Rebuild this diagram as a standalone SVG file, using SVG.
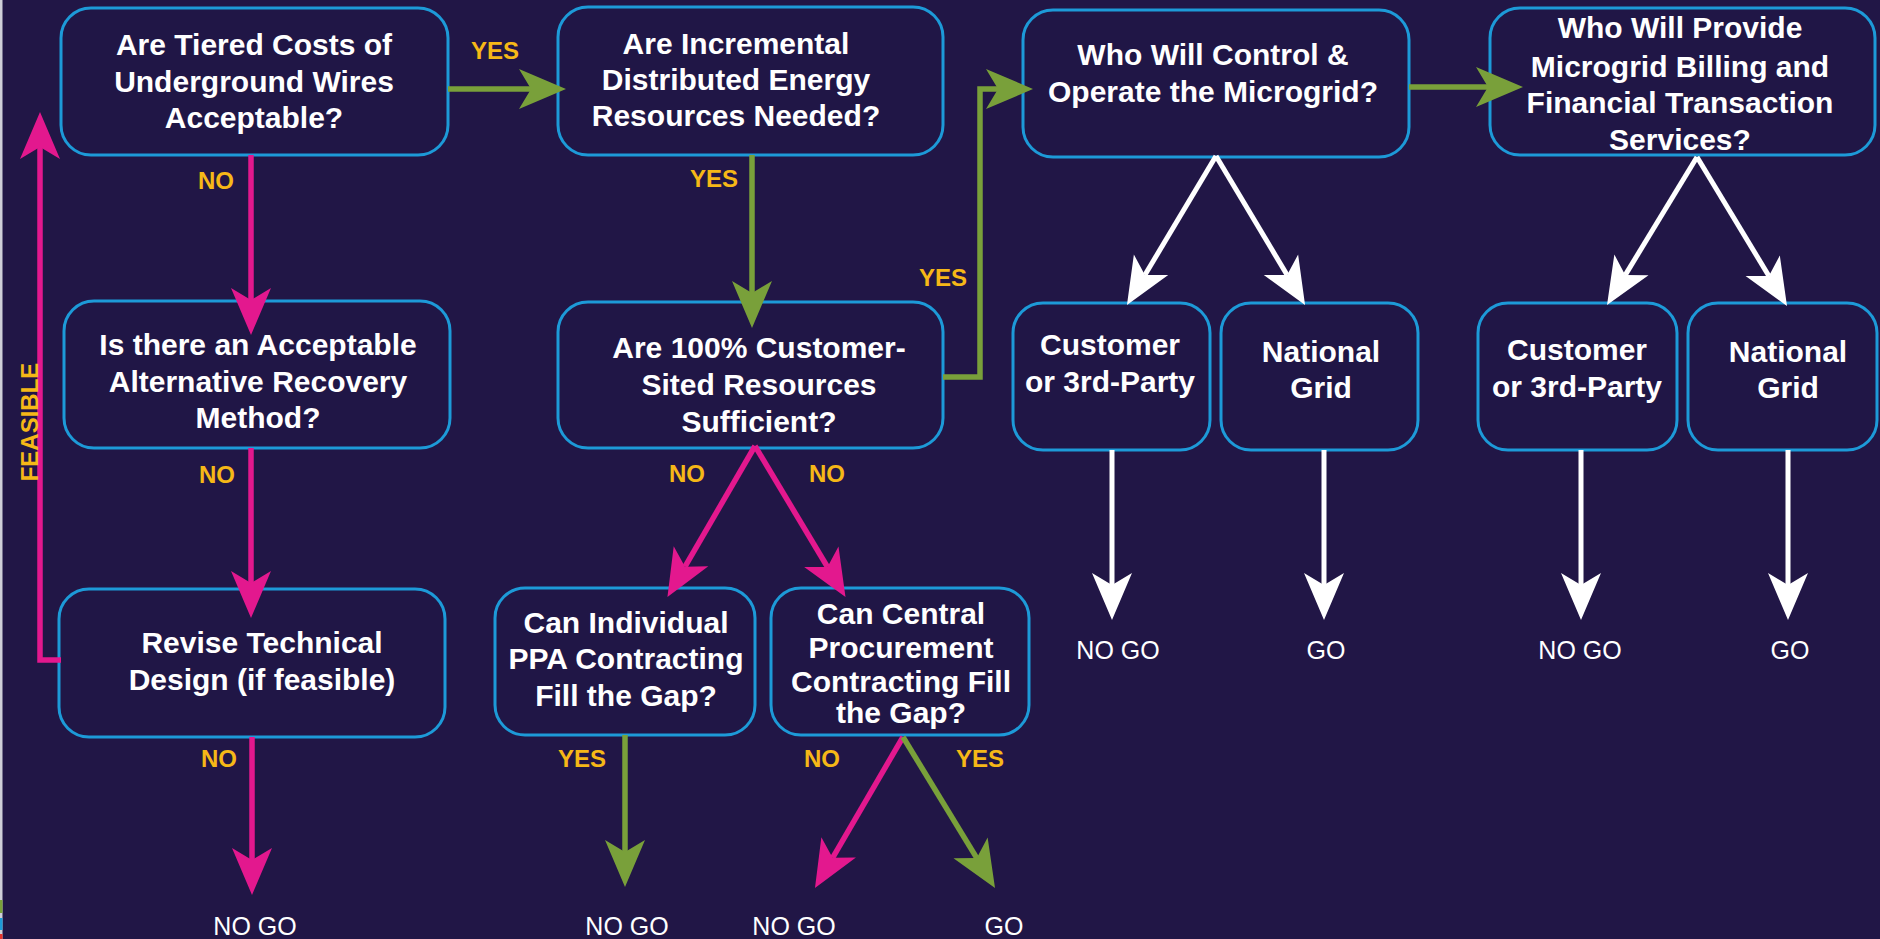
<svg xmlns="http://www.w3.org/2000/svg" width="1880" height="939" viewBox="0 0 1880 939">
<style>
.box{fill:#201646;stroke:#1d9ad8;stroke-width:3}
.t{font-family:"Liberation Sans",Arial,Helvetica,sans-serif;font-weight:bold;font-size:30px;fill:#ffffff;text-anchor:middle}
.lbl{font-family:"Liberation Sans",Arial,Helvetica,sans-serif;font-weight:bold;font-size:24px;fill:#f6b817;text-anchor:middle}
.end{font-family:"Liberation Sans",Arial,Helvetica,sans-serif;font-size:25px;fill:#ffffff;text-anchor:middle}
.g{stroke:#79a03a;stroke-width:5.5;fill:none}
.p{stroke:#e3188e;stroke-width:5.5;fill:none}
.w{stroke:#ffffff;stroke-width:5;fill:none}
</style>
<defs>
<marker id="ag" markerUnits="userSpaceOnUse" markerWidth="50" markerHeight="44" viewBox="0 -22 50 44" refX="12" refY="0" orient="auto" overflow="visible"><path d="M0,-20 L47,0 L0,20 L12,0 Z" fill="#79a03a"/></marker>
<marker id="ap" markerUnits="userSpaceOnUse" markerWidth="50" markerHeight="44" viewBox="0 -22 50 44" refX="12" refY="0" orient="auto" overflow="visible"><path d="M0,-20 L47,0 L0,20 L12,0 Z" fill="#e3188e"/></marker>
<marker id="aw" markerUnits="userSpaceOnUse" markerWidth="50" markerHeight="44" viewBox="0 -22 50 44" refX="12" refY="0" orient="auto" overflow="visible"><path d="M0,-20 L47,0 L0,20 L12,0 Z" fill="#ffffff"/></marker>
</defs>
<rect x="0" y="0" width="1880" height="939" fill="#211646"/>
<rect x="0" y="0" width="2.5" height="939" fill="#cfcfd8"/>
<rect x="0" y="900" width="2.5" height="13" fill="#79a03a"/>
<rect x="0" y="918" width="2.5" height="12" fill="#1d9ad8"/>
<rect x="0" y="934" width="2.5" height="5" fill="#e8322b"/>

<g id="n1"><rect class="box" x="61" y="8" width="387" height="147" rx="30"/>
<text class="t"><tspan x="254" y="55">Are Tiered Costs of</tspan><tspan x="254" y="91.5">Underground Wires</tspan><tspan x="254" y="128">Acceptable?</tspan></text></g>
<g id="n2"><rect class="box" x="64" y="301" width="386" height="147" rx="30"/>
<text class="t"><tspan x="258" y="355">Is there an Acceptable</tspan><tspan x="258" y="392">Alternative Recovery</tspan><tspan x="258" y="428">Method?</tspan></text></g>
<g id="n3"><rect class="box" x="59" y="589" width="386" height="148" rx="30"/>
<text class="t"><tspan x="262" y="653">Revise Technical</tspan><tspan x="262" y="690">Design (if feasible)</tspan></text></g>
<g id="n4"><rect class="box" x="558" y="7" width="385" height="148" rx="30"/>
<text class="t"><tspan x="736" y="54">Are Incremental</tspan><tspan x="736" y="90">Distributed Energy</tspan><tspan x="736" y="126">Resources Needed?</tspan></text></g>
<g id="n5"><rect class="box" x="558" y="302" width="385" height="146" rx="30"/>
<text class="t"><tspan x="759" y="358">Are 100% Customer-</tspan><tspan x="759" y="395">Sited Resources</tspan><tspan x="759" y="432">Sufficient?</tspan></text></g>
<g id="n6"><rect class="box" x="495" y="588" width="260" height="147" rx="30"/>
<text class="t"><tspan x="626" y="633">Can Individual</tspan><tspan x="626" y="669">PPA Contracting</tspan><tspan x="626" y="706">Fill the Gap?</tspan></text></g>
<g id="n7"><rect class="box" x="771" y="588" width="258" height="147" rx="30"/>
<text class="t"><tspan x="901" y="624">Can Central</tspan><tspan x="901" y="658">Procurement</tspan><tspan x="901" y="692">Contracting Fill</tspan><tspan x="901" y="723">the Gap?</tspan></text></g>
<g id="n8"><rect class="box" x="1023" y="10" width="386" height="147" rx="30"/>
<text class="t"><tspan x="1213" y="65">Who Will Control &amp;</tspan><tspan x="1213" y="102">Operate the Microgrid?</tspan></text></g>
<g id="n9"><rect class="box" x="1490" y="8" width="385" height="147" rx="30"/>
<text class="t"><tspan x="1680" y="38">Who Will Provide</tspan><tspan x="1680" y="77">Microgrid Billing and</tspan><tspan x="1680" y="113">Financial Transaction</tspan><tspan x="1680" y="150">Services?</tspan></text></g>
<g id="n10"><rect class="box" x="1013" y="303" width="197" height="147" rx="30"/>
<text class="t"><tspan x="1110" y="355">Customer</tspan><tspan x="1110" y="392">or 3rd-Party</tspan></text></g>
<g id="n11"><rect class="box" x="1221" y="303" width="197" height="147" rx="30"/>
<text class="t"><tspan x="1321" y="362">National</tspan><tspan x="1321" y="398">Grid</tspan></text></g>
<g id="n12"><rect class="box" x="1478" y="303" width="199" height="147" rx="30"/>
<text class="t"><tspan x="1577" y="360">Customer</tspan><tspan x="1577" y="397">or 3rd-Party</tspan></text></g>
<g id="n13"><rect class="box" x="1688" y="303" width="189" height="147" rx="30"/>
<text class="t"><tspan x="1788" y="362">National</tspan><tspan x="1788" y="398">Grid</tspan></text></g>

<g id="connectors">
<path class="g" d="M448,89 H531" marker-end="url(#ag)"/>
<path class="p" d="M251,155 V300" marker-end="url(#ap)"/>
<path class="p" d="M251,448 V583" marker-end="url(#ap)"/>
<path class="p" d="M252,737 V860" marker-end="url(#ap)"/>
<path class="p" d="M61,660 H40 V147" marker-end="url(#ap)"/>
<path class="g" d="M752,155 V293" marker-end="url(#ag)"/>
<path class="g" d="M943,377 H980 V89 H998" marker-end="url(#ag)"/>
<path class="p" d="M755,446 L685,566.7" marker-end="url(#ap)"/>
<path class="p" d="M755,446 L827.5,567" marker-end="url(#ap)"/>
<path class="g" d="M625,735 V852" marker-end="url(#ag)"/>
<path class="p" d="M903,737 L832.6,857.8" marker-end="url(#ap)"/>
<path class="g" d="M903,737 L976.8,858.1" marker-end="url(#ag)"/>
<path class="g" d="M1409,87 H1488" marker-end="url(#ag)"/>
<path class="w" d="M1216,156 L1144.9,275" marker-end="url(#aw)"/>
<path class="w" d="M1216,156 L1287.1,275" marker-end="url(#aw)"/>
<path class="w" d="M1697,157 L1625.2,275.1" marker-end="url(#aw)"/>
<path class="w" d="M1697,157 L1768.9,276" marker-end="url(#aw)"/>
<path class="w" d="M1112,450 V585" marker-end="url(#aw)"/>
<path class="w" d="M1324,450 V585" marker-end="url(#aw)"/>
<path class="w" d="M1581,450 V585" marker-end="url(#aw)"/>
<path class="w" d="M1788,450 V585" marker-end="url(#aw)"/>
</g>

<g id="labels">
<text class="lbl" x="495" y="59">YES</text>
<text class="lbl" x="216" y="189">NO</text>
<text class="lbl" x="217" y="483">NO</text>
<text class="lbl" x="219" y="767">NO</text>
<text class="lbl" x="0" y="0" font-size="27" transform="translate(38,422) rotate(-90)">FEASIBLE</text>
<text class="lbl" x="714" y="187">YES</text>
<text class="lbl" x="943" y="286">YES</text>
<text class="lbl" x="687" y="482">NO</text>
<text class="lbl" x="827" y="482">NO</text>
<text class="lbl" x="582" y="767">YES</text>
<text class="lbl" x="822" y="767">NO</text>
<text class="lbl" x="980" y="767">YES</text>
<text class="end" x="255" y="935">NO GO</text>
<text class="end" x="627" y="935">NO GO</text>
<text class="end" x="794" y="935">NO GO</text>
<text class="end" x="1004" y="935">GO</text>
<text class="end" x="1118" y="659">NO GO</text>
<text class="end" x="1326" y="659">GO</text>
<text class="end" x="1580" y="659">NO GO</text>
<text class="end" x="1790" y="659">GO</text>
</g>
</svg>
